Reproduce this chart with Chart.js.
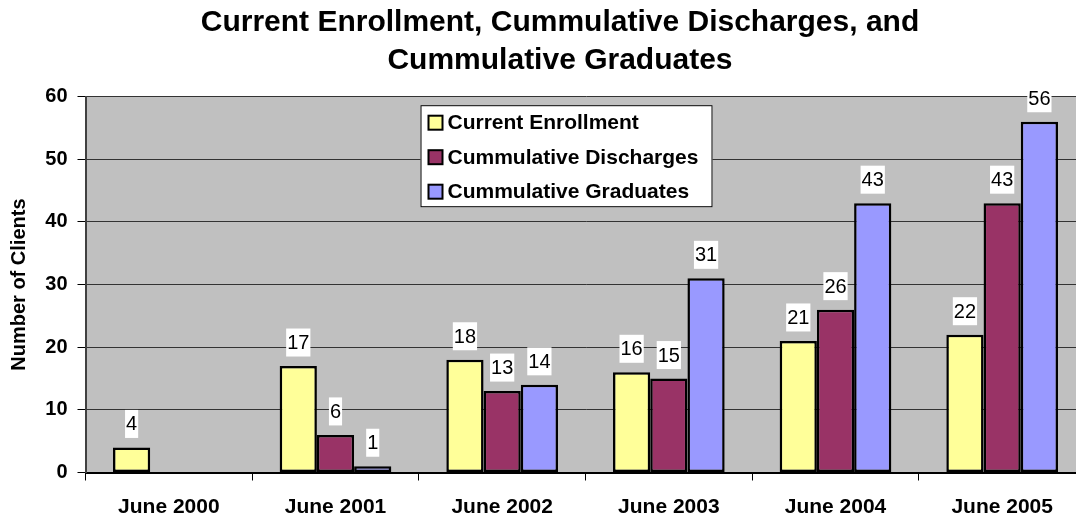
<!DOCTYPE html>
<html lang="en">
<head>
<meta charset="UTF-8" />
<title>Current Enrollment, Cummulative Discharges, and Cummulative Graduates</title>
<script src="https://cdn.jsdelivr.net/npm/chart.js"></script>
<style>
  * { margin: 0; padding: 0; box-sizing: border-box; }
  body { background: #fff; width: 1076px; height: 518px; overflow: hidden; }
  #wrap { width: 1120px; height: 518px; }
</style>
</head>
<body>
<div id="wrap"><canvas id="chart" width="1120" height="518"></canvas></div>
<script>
  // Data
  const periods = ['June 2000', 'June 2001', 'June 2002', 'June 2003', 'June 2004', 'June 2005'];
  const seriesNames = ['Current Enrollment', 'Cummulative Discharges', 'Cummulative Graduates'];
  const currentEnrollment = [4, 17, 18, 16, 21, 22];
  const cumDischarges = [null, 6, 13, 15, 26, 43];
  const cumGraduates = [null, 1, 14, 31, 43, 56];
  const yMin = 0, yMax = 60, yStep = 10;

  const FONT = '"Liberation Sans", Arial, sans-serif';

  // gray plot background
  const plotBg = {
    id: 'plotBg',
    beforeDraw(chart) {
      const { ctx, chartArea: a } = chart;
      ctx.save();
      ctx.fillStyle = '#C0C0C0';
      ctx.fillRect(a.left, a.top, a.right - a.left, a.bottom - a.top);
      ctx.restore();
    }
  };

  // value labels on white boxes above each bar
  const valueLabels = {
    id: 'valueLabels',
    afterDatasetsDraw(chart) {
      const ctx = chart.ctx;
      ctx.save();
      ctx.font = '20px ' + FONT;
      ctx.textAlign = 'center';
      ctx.textBaseline = 'middle';
      chart.data.datasets.forEach((ds, i) => {
        chart.getDatasetMeta(i).data.forEach((bar, j) => {
          const v = ds.data[j];
          if (v == null) return;
          const txt = String(v);
          const w = ctx.measureText(txt).width + 2;
          const cy = bar.y - 23.5;
          ctx.fillStyle = '#fff';
          ctx.fillRect(bar.x - w / 2, cy - 14, w, 28);
          ctx.fillStyle = '#000';
          ctx.fillText(txt, bar.x, cy + 1);
        });
      });
      ctx.restore();
    }
  };

  // boxed legend inside the plot area
  const boxLegend = {
    id: 'boxLegend',
    afterDraw(chart) {
      const { ctx, chartArea: a } = chart;
      const x = a.left + 335, y = a.top + 8.5, w = 292, h = 102;
      ctx.save();
      ctx.fillStyle = '#fff';
      ctx.fillRect(x, y, w, h);
      ctx.strokeStyle = '#000';
      ctx.lineWidth = 1;
      ctx.strokeRect(x + 0.5, y + 0.5, w - 1, h - 1);
      ctx.font = 'bold 21px ' + FONT;
      ctx.textAlign = 'left';
      ctx.textBaseline = 'middle';
      chart.data.datasets.forEach((ds, i) => {
        const cy = y + 17.5 + i * 34.5;
        ctx.fillStyle = ds.backgroundColor;
        ctx.fillRect(x + 8, cy - 7, 14, 14);
        ctx.lineWidth = 2;
        ctx.strokeRect(x + 8, cy - 7, 14, 14);
        ctx.fillStyle = '#000';
        ctx.fillText(ds.label, x + 27, cy + 1);
      });
      ctx.restore();
    }
  };

  const ctx = document.getElementById('chart').getContext('2d');
  new Chart(ctx, {
    type: 'bar',
    data: {
      labels: periods,
      datasets: [
        { label: seriesNames[0], data: currentEnrollment, backgroundColor: '#FFFF99' },
        { label: seriesNames[1], data: cumDischarges, backgroundColor: '#993366' },
        { label: seriesNames[2], data: cumGraduates, backgroundColor: '#9999FF' }
      ]
    },
    options: {
      responsive: false,
      animation: false,
      devicePixelRatio: 1,
      layout: { padding: { left: 34.5, right: 34.5, top: 0, bottom: 0 } },
      datasets: {
        bar: {
          borderColor: '#000',
          borderWidth: 2.5,
          borderSkipped: false,
          categoryPercentage: 0.67,
          barPercentage: 1
        }
      },
      plugins: {
        legend: { display: false },
        tooltip: { enabled: false },
        title: {
          display: true,
          text: ['Current Enrollment, Cummulative Discharges, and', 'Cummulative Graduates'],
          color: '#000',
          font: { family: FONT, size: 30, weight: 'bold', lineHeight: 1.27 },
          padding: { top: 4, bottom: 16.5 }
        }
      },
      scales: {
        x: {
          afterFit(scale) { scale.height = 45.5; },
          grid: { offset: true, drawOnChartArea: false, drawTicks: true, tickLength: 8, tickColor: '#000', tickWidth: 1 },
          border: { display: true, color: '#000', width: 2 },
          ticks: { color: '#000', font: { family: FONT, size: 21, weight: 'bold' }, padding: 14, maxRotation: 0 }
        },
        y: {
          min: yMin,
          max: yMax,
          afterFit(scale) { scale.width = 51; },
          grid: { color: '#333', lineWidth: 1, drawTicks: true, tickLength: 8, tickColor: '#000' },
          border: { display: true, color: '#404040', width: 2 },
          ticks: { stepSize: yStep, color: '#000', font: { family: FONT, size: 20, weight: 'bold' }, padding: 10 },
          title: {
            display: true,
            text: 'Number of Clients',
            color: '#000',
            font: { family: FONT, size: 20, weight: 'bold' },
            padding: { top: -27.5 }
          }
        }
      }
    },
    plugins: [plotBg, valueLabels, boxLegend]
  });
</script>
</body>
</html>
